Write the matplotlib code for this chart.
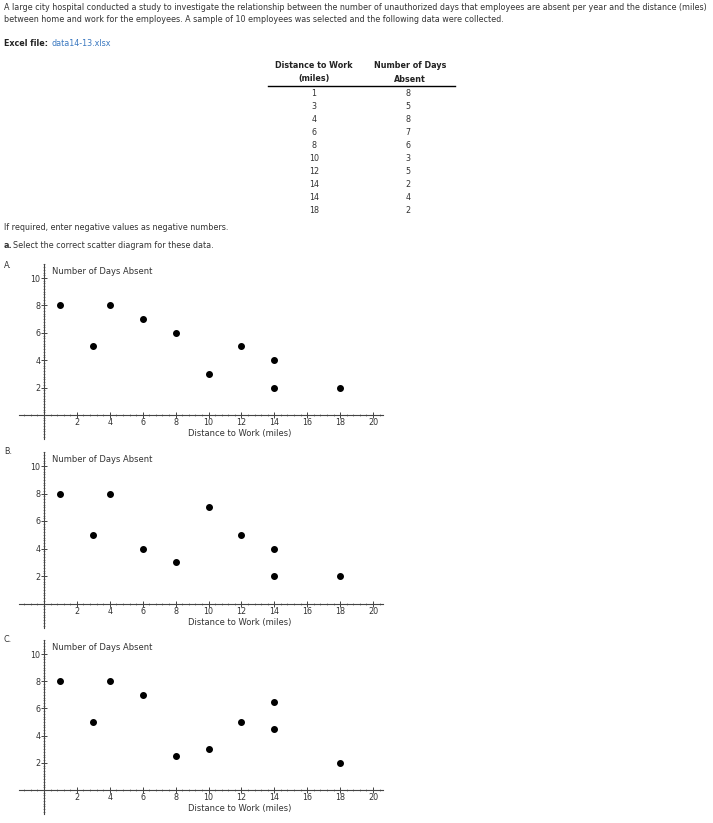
import matplotlib
matplotlib.use("Agg")
import matplotlib.pyplot as plt
import numpy as np
from matplotlib.ticker import MultipleLocator

distance = [1, 3, 4, 6, 8, 10, 12, 14, 14, 18]
days_absent = [8, 5, 8, 7, 6, 3, 5, 2, 4, 2]
option_a_y = [8, 5, 8, 7, 6, 3, 5, 2, 4, 2]
option_b_y = [8, 5, 8, 4, 3, 7, 5, 4, 2, 2]
option_c_y = [8, 5, 8, 7, 2.5, 3, 5, 6.5, 4.5, 2]
option_labels = ["A.", "B.", "C."]
x_ticks = [2, 4, 6, 8, 10, 12, 14, 16, 18, 20]
y_ticks = [2, 4, 6, 8, 10]

W, H = 713, 823
fig = plt.figure(figsize=(W / 100, H / 100), dpi=100)
fig.patch.set_facecolor("white")

def px(x, y):
    return x / W, 1 - y / H

FS = 5.75
txt_kw = dict(family="DejaVu Sans", color="#333333", va="center", ha="left")
fig.text(*px(4, 7), "A large city hospital conducted a study to investigate the relationship between the number of unauthorized days that employees are absent per year and the distance (miles)", fontsize=FS, **txt_kw)
fig.text(*px(4, 19), "between home and work for the employees. A sample of 10 employees was selected and the following data were collected.", fontsize=FS, **txt_kw)
fig.text(*px(4, 44), "Excel file:", fontsize=FS, fontweight="bold", **{**txt_kw, "color": "#222222"})
fig.text(*px(52, 44), "data14-13.xlsx", fontsize=FS, **{**txt_kw, "color": "#3a78c0"})
fig.text(*px(4, 228), "If required, enter negative values as negative numbers.", fontsize=FS, **txt_kw)
fig.text(*px(4, 245), "a.", fontsize=FS, fontweight="bold", **txt_kw)
fig.text(*px(13, 245), "Select the correct scatter diagram for these data.", fontsize=FS, **txt_kw)

# table
hk = dict(family="DejaVu Sans", fontsize=FS, fontweight="bold", color="#222222", ha="center", va="center")
fig.text(*px(314, 66), "Distance to Work", **hk)
fig.text(*px(314, 79), "(miles)", **hk)
fig.text(*px(410, 66), "Number of Days", **hk)
fig.text(*px(410, 79), "Absent", **hk)
fig.add_artist(plt.Line2D([268 / W, 455 / W], [1 - 86 / H, 1 - 86 / H], color="black", lw=1.0))
for i, (d, a) in enumerate(zip(distance, days_absent)):
    yy = 93 + i * 13.1
    fig.text(*px(314, yy), str(d), family="DejaVu Sans", fontsize=FS, color="#333333", ha="center", va="center")
    fig.text(*px(408, yy), str(a), family="DejaVu Sans", fontsize=FS, color="#333333", ha="center", va="center")

# scatter panels
x0px = 44.0
xs = 16.45
xlim = (-1.5, 20.6)
ylim = (-1.75, 11.0)
panels = [
    (option_a_y, 415.0, 13.7, 265),
    (option_b_y, 603.5, 13.75, 452),
    (option_c_y, 790.0, 13.6, 640),
]
for (ys, y0px, ysc, lab_y), lab in zip(panels, option_labels):
    left = x0px + xlim[0] * xs
    right = x0px + xlim[1] * xs
    top = y0px - ylim[1] * ysc
    bottom = y0px - ylim[0] * ysc
    ax = fig.add_axes([left / W, 1 - bottom / H, (right - left) / W, (bottom - top) / H])
    ax.set_xlim(*xlim)
    ax.set_ylim(*ylim)
    ax.patch.set_alpha(0)
    for s in ["top", "right"]:
        ax.spines[s].set_visible(False)
    ax.spines["left"].set_position(("data", 0))
    ax.spines["bottom"].set_position(("data", 0))
    for s in ["left", "bottom"]:
        ax.spines[s].set_linewidth(0.8)
        ax.spines[s].set_color("#444444")
    ax.set_xticks(x_ticks)
    ax.set_yticks(y_ticks)
    ax.set_xticklabels([str(t) for t in x_ticks])
    ax.set_yticklabels([str(t) for t in y_ticks])
    ax.xaxis.set_minor_locator(MultipleLocator(0.4))
    ax.yaxis.set_minor_locator(MultipleLocator(0.2))
    ax.tick_params(which="major", direction="inout", length=4, width=0.7, colors="#444444",
                   labelsize=5.8, labelcolor="#333333", pad=0.5)
    ax.tick_params(which="minor", direction="inout", length=2, width=0.5, colors="#666666")
    ax.scatter(distance, ys, s=16, color="black", zorder=3, clip_on=False)
    ax.text(0.5, 10.5, "Number of Days Absent", fontsize=6.0, color="#333333", ha="left", va="center")
    ax.text(11.9, -1.35, "Distance to Work (miles)", fontsize=6.0, color="#333333", ha="center", va="center")
    fig.text(*px(4, lab_y), lab, fontsize=FS, color="#333333", ha="left", va="center", family="DejaVu Sans")

fig.savefig("out.png", dpi=100, facecolor="white")
